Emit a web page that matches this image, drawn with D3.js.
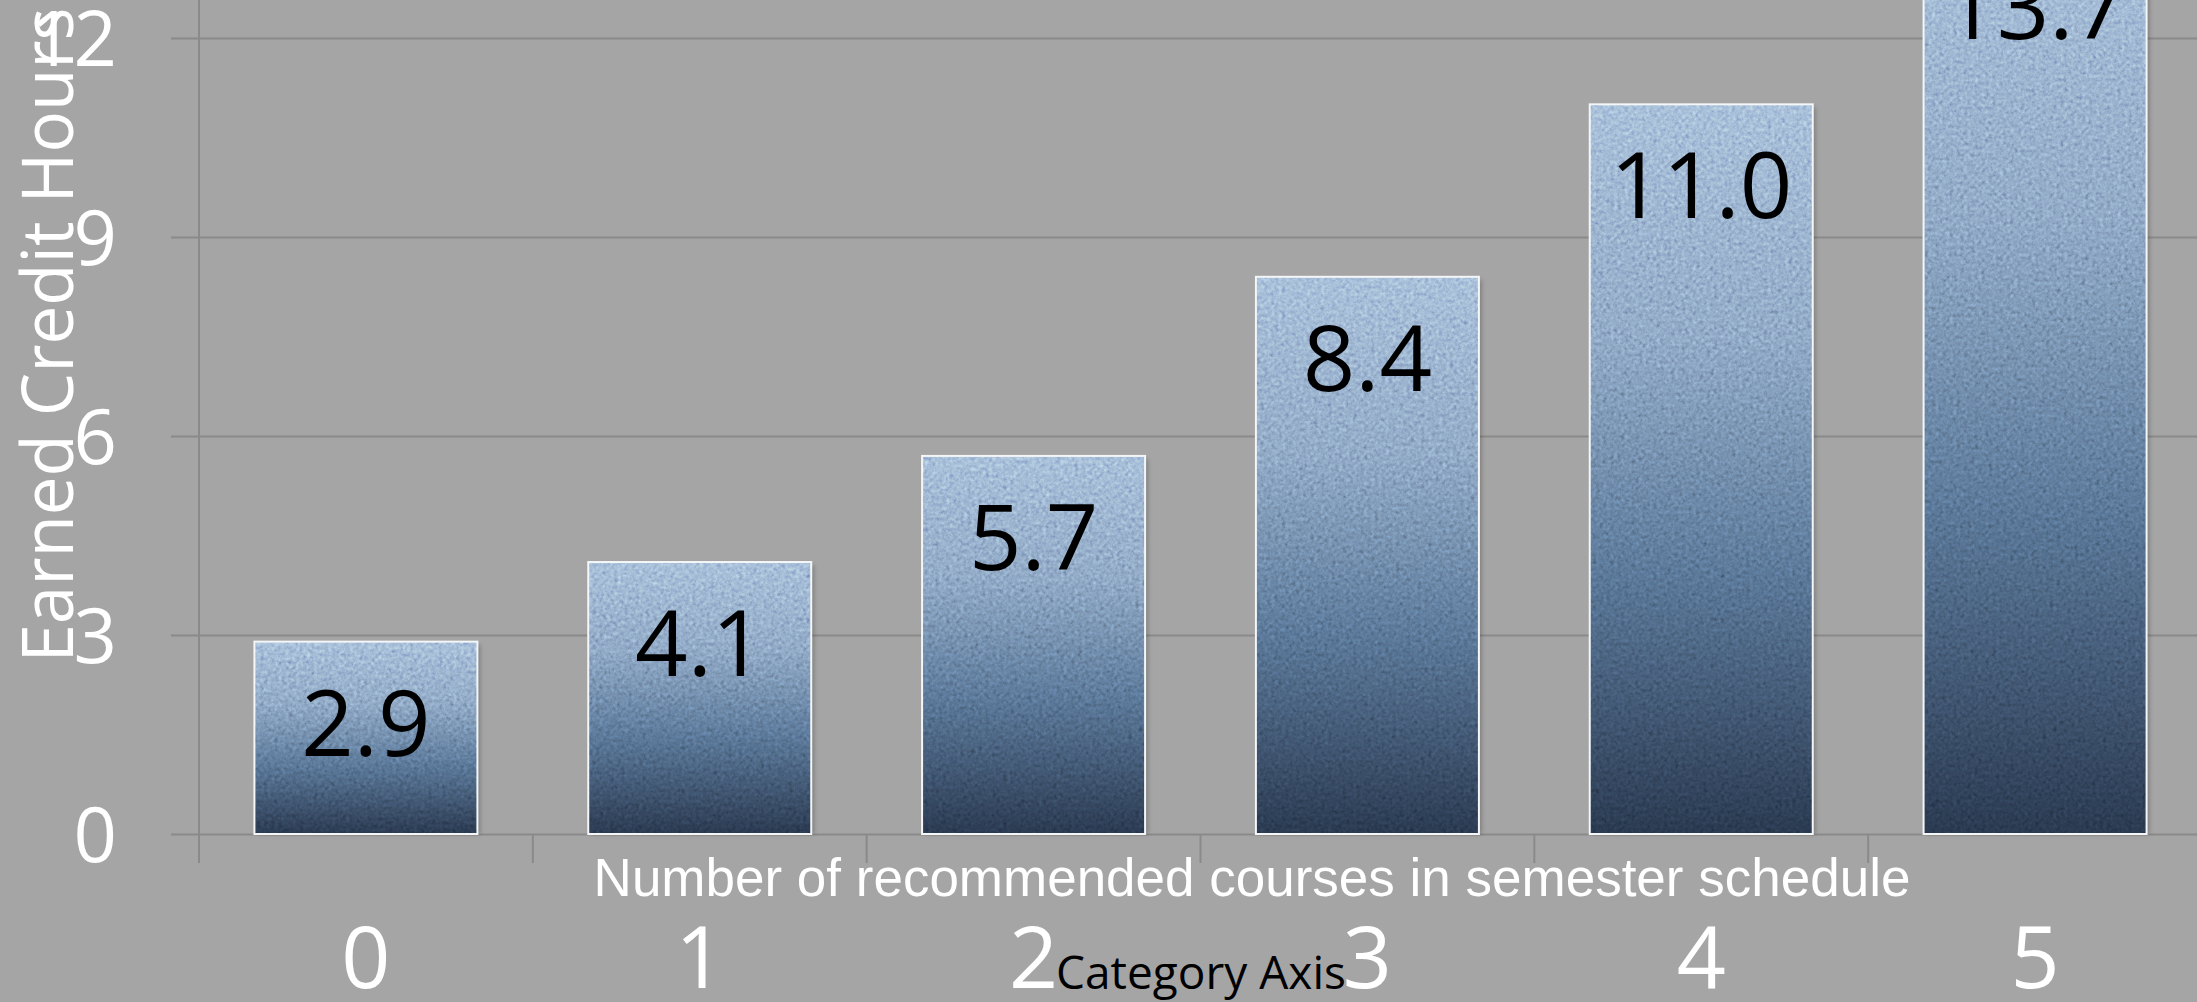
<!DOCTYPE html>
<html>
<head>
<meta charset="utf-8">
<script src="https://cdn.jsdelivr.net/npm/d3@7"></script>
<style>
  html, body { margin: 0; padding: 0; background: #a5a5a5; overflow: hidden; }
  svg { display: block; }
</style>
</head>
<body>
<svg></svg>
<script>

let categories = ['0', '1', '2', '3', '4', '5']
let credits = [2.9, 4.1, 5.7, 8.4, 11.0, 13.7]
let yTicks = [0, 3, 6, 9, 12]

let xTitle = 'Number of recommended courses in semester schedule'
let yTitle = 'Earned Credit Hours'
let axisName = 'Category Axis'

let width = 2197,
    height = 1002

let svg = d3.select('svg').attr('width', width).attr('height', height)

svg.append('rect')
  .attr('width', width)
  .attr('height', height)
  .attr('fill', '#a5a5a5')

let x = d3.scaleBand()
  .domain(categories)
  .range([199, 2202])
  .paddingInner(0.332)
  .paddingOuter(0.166)

let y = d3.scaleLinear()
  .domain([0, 12])
  .range([834, 38])

let defs = svg.append('defs')

let grad = defs.append('linearGradient')
  .attr('id', 'barFill')
  .attr('x1', 0).attr('y1', 0)
  .attr('x2', 0).attr('y2', 1)

grad.append('stop').attr('offset', '0%').attr('stop-color', '#abc2db')
grad.append('stop').attr('offset', '32%').attr('stop-color', '#93acc8')
grad.append('stop').attr('offset', '64%').attr('stop-color', '#5d7b9c')
grad.append('stop').attr('offset', '100%').attr('stop-color', '#2b3b52')

// paper-ish grain over the bars
let grain = defs.append('filter')
  .attr('id', 'grain')
  .attr('x', 0).attr('y', 0)
  .attr('width', '100%').attr('height', '100%')

grain.append('feTurbulence')
  .attr('type', 'fractalNoise')
  .attr('baseFrequency', 0.28)
  .attr('numOctaves', 3)
  .attr('seed', 7)
  .attr('result', 'noise')

grain.append('feColorMatrix')
  .attr('in', 'noise')
  .attr('type', 'matrix')
  .attr('values', '0.33 0.33 0.33 0 0  0.33 0.33 0.33 0 0  0.33 0.33 0.33 0 0  0 0 0 0 0.85')
  .attr('result', 'grey')

grain.append('feComposite')
  .attr('in', 'grey')
  .attr('in2', 'SourceGraphic')
  .attr('operator', 'in')
  .attr('result', 'greyIn')

grain.append('feBlend')
  .attr('in', 'greyIn')
  .attr('in2', 'SourceGraphic')
  .attr('mode', 'overlay')

let shadow = defs.append('filter')
  .attr('id', 'shadow')
  .attr('x', '-10%').attr('y', '-10%')
  .attr('width', '120%').attr('height', '120%')

shadow.append('feGaussianBlur').attr('stdDeviation', 2)

// gridlines + y labels
let yAxis = d3.axisLeft(y)
  .tickValues(yTicks)
  .tickSize(-(width - 171))
  .tickPadding(54)
  .tickFormat(d3.format('d'))

let gy = svg.append('g')
  .attr('transform', 'translate(171,0)')
  .call(yAxis)

gy.select('.domain').remove()
gy.selectAll('.tick line')
  .attr('stroke', '#8a8a8a')
  .attr('stroke-width', 2)
gy.selectAll('.tick text')
  .attr('fill', '#ffffff')
  .attr('dy', '0.36em')
  .style('font-family', '"Open Sans", "Noto Sans", sans-serif')
  .style('font-size', '76px')

// vertical axis line and category tick marks
svg.append('line')
  .attr('x1', x.range()[0]).attr('x2', x.range()[0])
  .attr('y1', 0).attr('y2', y(0) + 29)
  .attr('stroke', '#8a8a8a')
  .attr('stroke-width', 2)

let bounds = categories.map(c => x(c) - x.step() * x.paddingInner() / 2)

svg.append('g')
  .selectAll('line')
  .data(bounds)
  .enter().append('line')
  .attr('x1', d => d).attr('x2', d => d)
  .attr('y1', y(0)).attr('y2', y(0) + 29)
  .attr('stroke', '#8a8a8a')
  .attr('stroke-width', 2)

// bars
let bars = svg.append('g')
  .selectAll('g')
  .data(credits)
  .enter().append('g')

bars.append('rect')
  .attr('x', (d, i) => x(categories[i]) + 3)
  .attr('y', d => y(d) + 3)
  .attr('width', x.bandwidth())
  .attr('height', d => y(0) - y(d) - 3)
  .attr('fill', 'rgba(0,0,0,0.22)')
  .attr('filter', 'url(#shadow)')

bars.append('rect')
  .attr('x', (d, i) => x(categories[i]))
  .attr('y', d => y(d))
  .attr('width', x.bandwidth())
  .attr('height', d => y(0) - y(d))
  .attr('fill', 'url(#barFill)')
  .attr('filter', 'url(#grain)')

bars.append('rect')
  .attr('x', (d, i) => x(categories[i]))
  .attr('y', d => y(d))
  .attr('width', x.bandwidth())
  .attr('height', d => y(0) - y(d))
  .attr('fill', 'none')
  .attr('stroke', '#f4f6f8')
  .attr('stroke-width', 2)

bars.append('text')
  .attr('x', (d, i) => x(categories[i]) + x.bandwidth() / 2)
  .attr('y', d => y(d) + 114)
  .attr('text-anchor', 'middle')
  .attr('fill', '#000000')
  .style('font-family', '"Open Sans", "Noto Sans", sans-serif')
  .style('font-size', '92px')
  .text(d => d.toFixed(1))

// category labels
svg.append('g')
  .selectAll('text')
  .data(categories)
  .enter().append('text')
  .attr('x', d => x(d) + x.bandwidth() / 2)
  .attr('y', 988)
  .attr('text-anchor', 'middle')
  .attr('fill', '#ffffff')
  .style('font-family', '"Open Sans", "Noto Sans", sans-serif')
  .style('font-size', '86px')
  .text(d => d)

// titles
svg.append('text')
  .attr('x', 1252)
  .attr('y', 896)
  .attr('text-anchor', 'middle')
  .attr('fill', '#ffffff')
  .style('font-family', '"Liberation Sans", Arial, sans-serif')
  .style('font-size', '53px')
  .text(xTitle)

svg.append('text')
  .attr('x', 1201)
  .attr('y', 989)
  .attr('text-anchor', 'middle')
  .attr('fill', '#000000')
  .style('font-family', '"Open Sans", "Noto Sans", sans-serif')
  .style('font-size', '46px')
  .text(axisName)

svg.append('text')
  .attr('transform', 'translate(73,335) rotate(-90)')
  .attr('text-anchor', 'middle')
  .attr('fill', '#ffffff')
  .style('font-family', '"Open Sans", "Noto Sans", sans-serif')
  .style('font-size', '72px')
  .attr('textLength', 655)
  .attr('lengthAdjust', 'spacingAndGlyphs')
  .text(yTitle)

</script>
</body>
</html>
